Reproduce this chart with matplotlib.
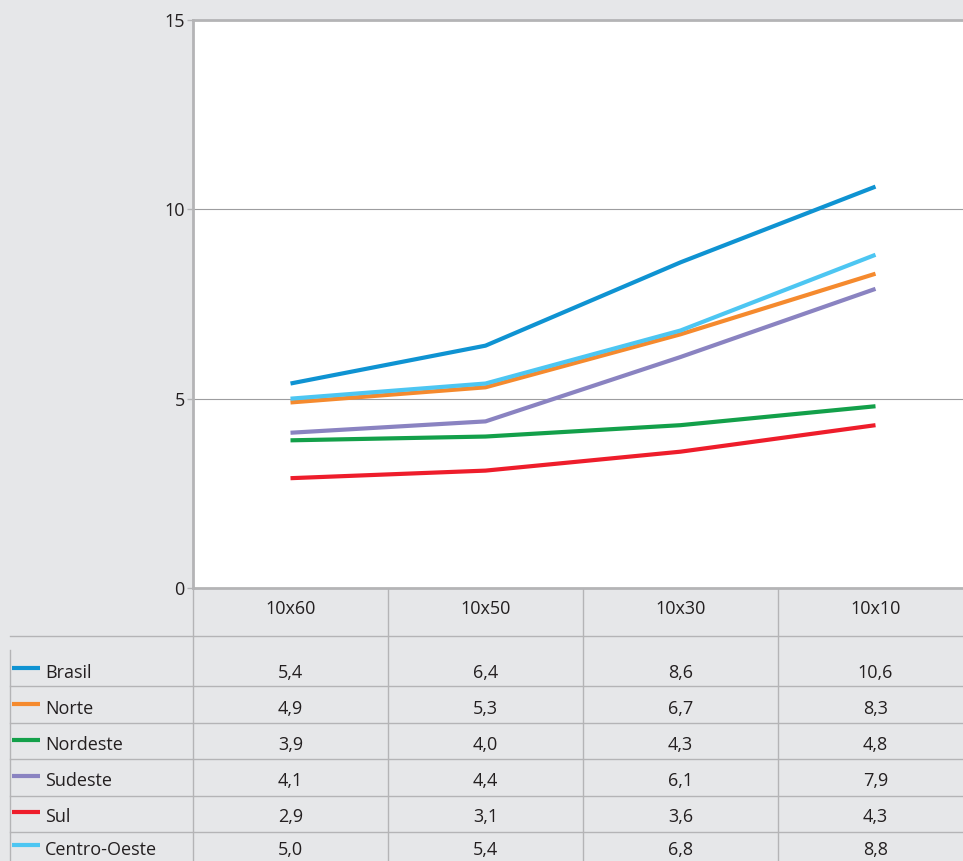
import matplotlib.pyplot as plt

# Dados
categorias = ["10x60", "10x50", "10x30", "10x10"]
regioes = ["Brasil", "Norte", "Nordeste", "Sudeste", "Sul", "Centro-Oeste"]
brasil = [5.4, 6.4, 8.6, 10.6]
norte = [4.9, 5.3, 6.7, 8.3]
nordeste = [3.9, 4.0, 4.3, 4.8]
sudeste = [4.1, 4.4, 6.1, 7.9]
sul = [2.9, 3.1, 3.6, 4.3]
centro_oeste = [5.0, 5.4, 6.8, 8.8]
valores = [brasil, norte, nordeste, sudeste, sul, centro_oeste]
cores = ["#0f93d2", "#f58a2e", "#13a04a", "#8a83c1", "#ee1d2b", "#4dc6f2"]
yticks = [0, 5, 10, 15]

plt.rcParams["font.family"] = ["Open Sans", "DejaVu Sans"]
fundo = "#e6e7e9"
cinza = "#b4b4b6"
texto = "#231f20"
fs = 13

W, H = 963, 861
fig = plt.figure(figsize=(W / 100, H / 100), dpi=100)
fig.patch.set_facecolor(fundo)

# Área do gráfico (em pixels: x 193..973, y 20..588)
ax = fig.add_axes([193 / W, (H - 588) / H, 780 / W, 568 / H])
ax.set_facecolor("white")
x = range(len(categorias))
for i in range(len(regioes)):
    ax.plot(x, valores[i], color=cores[i], lw=3.0, solid_capstyle="butt", zorder=3 + i)

ax.set_xlim(-0.5, len(categorias) - 0.5)
ax.set_ylim(0, 15)
ax.set_yticks(yticks)
ax.set_yticklabels([str(v) for v in yticks], fontsize=fs, color=texto)
ax.set_xticks([])
ax.tick_params(axis="y", length=4, width=1, color=cinza, pad=2)
for v in [5, 10]:
    ax.axhline(v, color="#9d9d9f", lw=0.8, zorder=1)
ax.spines["right"].set_visible(False)
for s in ["top", "bottom", "left"]:
    ax.spines[s].set_color(cinza)
    ax.spines[s].set_linewidth(2)

# Tabela desenhada em coordenadas de pixel
tb = fig.add_axes([0, 0, 1, 1], zorder=-1)
tb.set_xlim(0, W)
tb.set_ylim(H, 0)
tb.axis("off")
tb.patch.set_alpha(0)

col_x = [193 + 195 * i for i in range(len(categorias) + 1)]
for cx in col_x[:-1]:
    tb.plot([cx, cx], [588, H], color=cinza, lw=1)
tb.plot([10, 10], [650, H], color=cinza, lw=1)

linhas_y = [636, 686, 723, 759, 796, 832]
for ly in linhas_y:
    tb.plot([10, W], [ly, ly], color=cinza, lw=1)

for j, cat in enumerate(categorias):
    cx = (col_x[j] + col_x[j + 1]) / 2
    tb.text(cx, 609, cat, ha="center", va="center", fontsize=fs, color=texto)

texto_y = [673, 709, 745, 781, 817, 850]
for i, reg in enumerate(regioes):
    ty = texto_y[i]
    tb.plot([12, 40], [ty - 5, ty - 5], color=cores[i], lw=3.0, solid_capstyle="butt")
    tb.text(45, ty, reg, ha="left", va="center", fontsize=fs, color=texto)
    for j, v in enumerate(valores[i]):
        cx = (col_x[j] + col_x[j + 1]) / 2
        tb.text(cx, ty, f"{v:.1f}".replace(".", ","), ha="center", va="center",
                fontsize=fs, color=texto)

fig.savefig("out.png", dpi=100, facecolor=fundo)
